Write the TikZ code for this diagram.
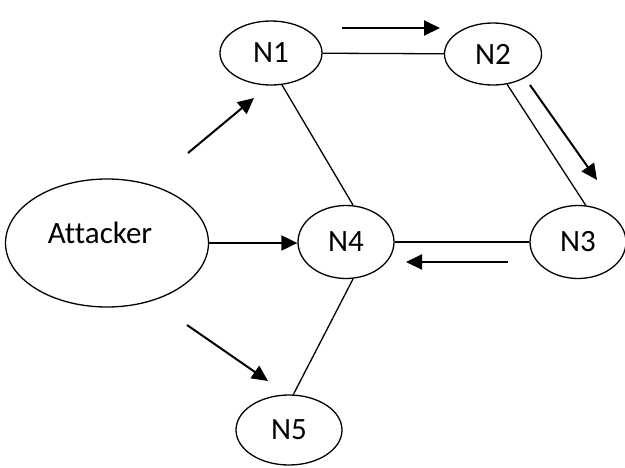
\documentclass[tikz,border=0pt]{standalone}
\usepackage{fontspec}
\setmainfont{Carlito}[Ligatures=NoCommon]
\usetikzlibrary{arrows.meta,shapes.geometric}

\begin{document}
\begin{tikzpicture}[x=1pt,y=1pt,yscale=-1,xscale=1,
  ell/.style={draw,ellipse,line width=1.3pt,inner sep=0pt,font=\fontsize{31}{36}\selectfont},
  link/.style={line width=1.3pt},
  flow/.style={line width=2pt,-{Triangle[length=16pt,width=15pt]}}]
\useasboundingbox (0,0) rectangle (625,467);
\node [ell,minimum width=102pt,minimum height=64pt] (N1) at (271,53) {N1};
\node [ell,minimum width=97pt,minimum height=62pt] (N2) at (493,54) {N2};
\node [ell,minimum width=96pt,minimum height=73pt] (N3) at (578,242) {N3};
\node [ell,minimum width=96pt,minimum height=73pt] (N4) at (346,242) {N4};
\node [ell,minimum width=106pt,minimum height=70pt] (N5) at (289,430) {N5};
\node [ell,minimum width=203pt,minimum height=128pt] (Att) at (107,243) {\raisebox{20pt}{Attacker}\hspace*{14pt}};
% links
\draw [link] (N1) -- (N2);
\draw [link] (N1.-71) -- (N4.79);
\draw [link] (N2.-65) -- (N3.78);
\draw [link] (N3) -- (N4);
\draw [link] (N4.-79) -- (N5.83);
% attack flow
\coordinate (a1s) at (342,28);
\coordinate (a1e) at (440,28);
\coordinate (a2s) at (530,85);
\coordinate (a2e) at (597,180);
\coordinate (a3s) at (508,262);
\coordinate (a3e) at (406,262);
\coordinate (a4s) at (188,153);
\coordinate (a4e) at (254,98);
\coordinate (a6s) at (187,325);
\coordinate (a6e) at (268,381);
\draw [flow] (a1s) -- (a1e);
\draw [flow] (a2s) -- (a2e);
\draw [flow] (a3s) -- (a3e);
\draw [flow] (a4s) -- (a4e);
\draw [flow] (Att.east) -- (Att.east -| N4.west);
\draw [flow] (a6s) -- (a6e);
\end{tikzpicture}
\end{document}
